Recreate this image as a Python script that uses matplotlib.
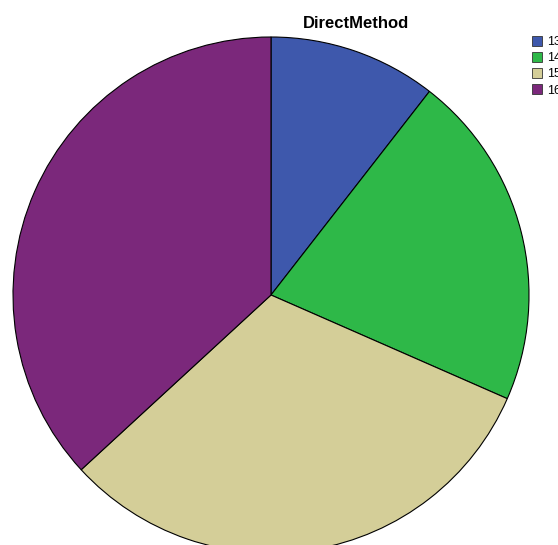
import matplotlib
matplotlib.use('Agg')
import matplotlib.pyplot as plt

labels = ['13', '14', '15', '16']
counts = [2, 4, 6, 7]
colors = ['#3E58AC', '#2EB848', '#D4CE98', '#7B287B']

plt.rcParams['font.family'] = ['Liberation Sans', 'DejaVu Sans']

fig = plt.figure(figsize=(5.58, 5.45), dpi=100)
ax = fig.add_axes([0, 0, 1, 1])
wedges, _ = ax.pie(counts, colors=colors, startangle=90, counterclock=False,
                   center=(271, 250), radius=258,
                   wedgeprops={'edgecolor': 'black', 'linewidth': 0.8})
ax.set_xlim(0, 558)
ax.set_ylim(0, 545)
ax.set_aspect('equal')
ax.axis('off')

fig.text(356 / 558, 1 - 23 / 545, 'DirectMethod', ha='center', va='center',
         fontsize=12, fontweight='bold')

leg = fig.legend(wedges, labels, loc='upper left',
                 bbox_to_anchor=(532 / 558, 1 - 36 / 545),
                 frameon=False, fontsize=9, handlelength=0.8, handleheight=0.8,
                 handletextpad=0.4, labelspacing=0.32, borderpad=0,
                 borderaxespad=0)
for h in leg.legend_handles:
    h.set_edgecolor('#333333')
    h.set_linewidth(0.6)

fig.savefig('out.png', dpi=100)
